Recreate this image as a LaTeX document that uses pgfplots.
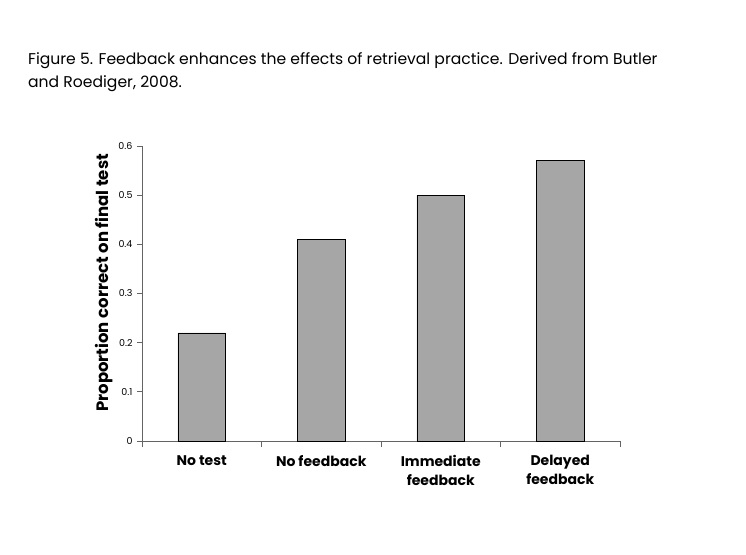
\documentclass[border=0pt]{standalone}
\usepackage{fontspec}
\setmainfont{Poppins}
\usepackage{pgfplots}
\pgfplotsset{compat=1.18}
\definecolor{barfill}{RGB}{166,166,166}
\definecolor{axgray}{RGB}{100,100,100}
\begin{document}
\begin{tikzpicture}[x=1pt,y=1pt]
\useasboundingbox (0,0) rectangle (746,554);
\node[anchor=west,align=left,inner sep=0pt,font=\fontsize{15.6}{23}\selectfont] at (28,482) {Figure 5. Feedback enhances the effects of retrieval practice. Derived from Butler\\and Roediger, 2008.};
\begin{axis}[
  at={(142pt,113pt)}, anchor=south west,
  scale only axis, width=478pt, height=295pt,
  xmin=-0.5, xmax=3.5, ymin=0, ymax=0.6,
  axis x line*=bottom, axis y line*=left,
  axis line style={axgray, line width=0.8pt},
  xtick={0,1,2,3},
  xticklabels={No test, No feedback, Immediate\\feedback, Delayed\\feedback},
  xticklabel style={font=\fontsize{14}{19}\selectfont\bfseries, align=center, anchor=north, yshift=-6pt},
  major x tick style={draw=none},
  minor xtick={-0.5,0.5,1.5,2.5,3.5},
  minor x tick style={axgray, line width=0.8pt},
  minor tick length=6pt,
  ytick={0,0.1,0.2,0.3,0.4,0.5,0.6},
  yticklabels={0,0.1,0.2,0.3,0.4,0.5,0.6},
  y tick style={axgray, line width=0.8pt},
  major tick length=5pt,
  tick align=outside,
  yticklabel style={font=\fontsize{9.5}{11}\selectfont, xshift=-1pt},
  ylabel={Proportion correct on final test},
  ylabel style={font=\fontsize{16.5}{18}\selectfont\bfseries, at={(axis description cs:-0.08,0.536)}, anchor=center},
  clip=false,
]
\addplot[ybar, bar width=0.4, fill=barfill, draw=black, line width=0.6pt] coordinates {(0,0.22) (1,0.41) (2,0.50) (3,0.57)};
\end{axis}
\end{tikzpicture}
\end{document}
